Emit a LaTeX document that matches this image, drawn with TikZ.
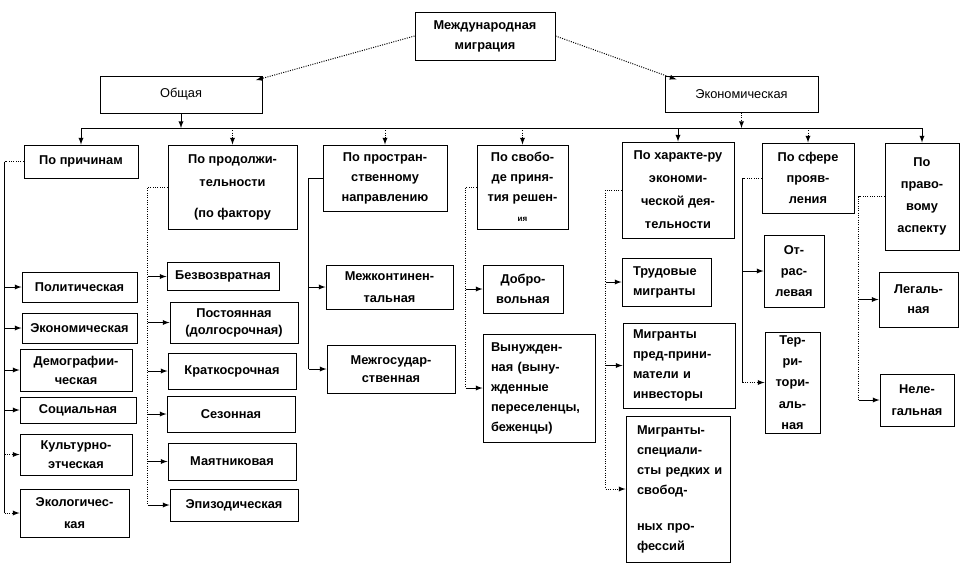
\documentclass[tikz,border=0pt]{standalone}
\usepackage{fontspec}
\setmainfont{Liberation Sans}
\usetikzlibrary{arrows}

\tikzset{every picture/.style={line width=0.75pt}}
\tikzset{
  box/.style={draw, fill=white, inner sep=1pt, align=center, font=\bfseries\fontsize{9.6}{15}\selectfont},
  lbox/.style={box, font=\mdseries\fontsize{9.6}{15}\selectfont},
  sz/.style 2 args={minimum width=#1*0.75pt, minimum height=#2*0.75pt},
  tw/.style={text width=#1*0.75pt, align=left},
  ls/.style={font=\bfseries\fontsize{9.6}{#1}\selectfont},
  arr/.style={-latex},
  darr/.style={-latex, densely dotted},
  dlink/.style={densely dotted},
}

\begin{document}
\begin{tikzpicture}[x=0.75pt,y=0.75pt,yscale=-1,xscale=1]
\useasboundingbox (0,0) rectangle (968,576);

%% ---------------- top levels ----------------
\node [box, sz={140}{48}] (top) at (485,36) {Международная\\миграция};
\node [lbox, sz={162}{37}] (obsh) at (181,94.5) {Общая};
\node [lbox, sz={153}{36}] (econ) at (741.5,94) {Экономическая};

%% ---------------- criteria ----------------
\node [box, sz={114}{33}] (prich) at (81,161.5) {По причинам};
\node [box, sz={129}{84}, ls=17.25] (prod) at (232.5,187) {По продолжи-\\тельности\\[6pt](по фактору};
\node [box, sz={124}{66}] (prost) at (385,178) {По простран-\\ственному\\направлению};
\node [box, sz={91}{84}] (svob) at (522.5,187) {По свобо-\\де приня-\\тия решен-\\{\fontsize{6}{6}\selectfont ия}};
\node [box, sz={112}{96}, ls=17.25] (harakt) at (678,190) {По характе-ру\\экономи-\\ческой дея-\\тельности};
\node [box, sz={92}{70}, ls=15.5] (sfera) at (808,178) {По сфере\\прояв-\\ления};
\node [box, sz={74}{107}, ls=16.5] (pravo) at (922,196.5) {По\\право-\\вому\\аспекту};

%% ---------------- by reasons ----------------
\node [box, sz={115}{30}] (polit) at (79.5,287) {Политическая};
\node [box, sz={115}{30}] (econ1) at (79.5,328) {Экономическая};
\node [box, sz={112}{42}, ls=14.25] (demo) at (76,370) {Демографии-\\ческая};
\node [box, sz={116}{26}] (soc) at (78,410) {Социальная};
\node [box, sz={112}{41}, ls=14.25] (kult) at (76,454.5) {Культурно-\\этческая};
\node [box, sz={109}{48}, ls=16] (ekol) at (74.5,513) {Экологичес-\\кая};

%% ---------------- by duration ----------------
\node [box, sz={112}{28}] (bezv) at (223,276.5) {Безвозвратная};
\node [box, sz={128}{41}, ls=12.75] (post) at (234,322.5) {Постоянная\\(долгосрочная)};
\node [box, sz={128}{36}] (krat) at (232,371) {Краткосрочная};
\node [box, sz={128}{36}] (sez) at (231,414) {Сезонная};
\node [box, sz={128}{37}] (mayat) at (232,461.5) {Маятниковая};
\node [box, sz={128}{32}] (epiz) at (234,505) {Эпизодическая};

%% ---------------- by direction ----------------
\node [box, sz={127}{44}, ls=16.5] (mezhk) at (389.5,287) {Межконтинен-\\тальная};
\node [box, sz={128}{48}, ls=13.5] (mezhg) at (391,369) {Межгосудар-\\ственная};

%% ---------------- by freedom of decision ----------------
\node [box, sz={80}{48}] (dobro) at (523,289) {Добро-\\вольная};
\node [box, sz={112}{108}, tw=96] (vyn) at (539,388) {Вынужден-\\ная (выну-\\жденные\\переселенцы,\\беженцы)};

%% ---------------- by economic activity ----------------
\node [box, sz={89}{48}, tw=67] (trud) at (666.5,282) {Трудовые\\мигранты};
\node [box, sz={112}{85}, tw=92] (predpr) at (679,365.5) {Мигранты\\пред-прини-\\матели~и\\инвесторы};
\node [box, sz={104}{146}, tw=82] (spec) at (678,489) {Мигранты-\\специали-\\сты~редких~и\\свобод-\\[12pt]ных~про-\\фессий};

%% ---------------- by sphere / legal aspect ----------------
\node [box, sz={60}{72}, ls=16] (otr) at (794,271) {От-\\рас-\\левая};
\node [box, sz={55}{101}, ls=16] (terr) at (792.5,382.5) {Тер-\\ри-\\тори-\\аль-\\ная};
\node [box, sz={79}{55}] (legal) at (918.5,299.5) {Легаль-\\ная};
\node [box, sz={74}{52}, ls=16.5] (nelegal) at (917,400) {Неле-\\гальная};

%% ---------------- connectors: top ----------------
\draw [darr] (top.west) -- ([xshift=-5pt,yshift=3.5pt]obsh.north east);
\draw [darr] (top.east) -- ([xshift=9pt,yshift=3pt]econ.north west);

\coordinate (bus) at (0,128);
\draw (prich.north |- bus) -- (pravo.north |- bus);
\draw [arr] (obsh.south) -- (obsh.south |- bus);
\draw [darr] (econ.south) -- (econ.south |- bus);
\foreach \n in {prich,harakt,pravo} \draw [arr] (\n.north |- bus) -- (\n.north);
\foreach \n in {prod,prost,svob,sfera} \draw [darr] (\n.north |- bus) -- (\n.north);

%% ---------------- connectors: columns ----------------
\draw [dlink] (prich.west) -- ++(-19,0) coordinate (c1);
\draw (c1) -- (c1 |- ekol.west);
\foreach \n in {polit,econ1,demo,soc} \draw [arr] (c1 |- \n.west) -- (\n.west);
\foreach \n in {kult,ekol} \draw [darr] (c1 |- \n.west) -- (\n.west);

\draw [dlink] (prod.west) -- ++(-20,0) coordinate (c2) -- (c2 |- epiz.west);
\foreach \n in {bezv,post,krat,sez,mayat,epiz} \draw [arr] (c2 |- \n.west) -- (\n.west);

\draw (prost.west) -- ++(-14,0) coordinate (c3) -- (c3 |- mezhg.west);
\foreach \n in {mezhk,mezhg} \draw [arr] (c3 |- \n.west) -- (\n.west);

\draw [dlink] (svob.west) -- ++(-11,0) coordinate (c4) -- (c4 |- vyn.west);
\foreach \n in {dobro,vyn} \draw [arr] (c4 |- \n.west) -- (\n.west);

\draw [dlink] (harakt.west) -- ++(-16,0) coordinate (c5) -- (c5 |- spec.west);
\foreach \n in {trud,predpr} \draw [arr] (c5 |- \n.west) -- (\n.west);
\draw [darr] (c5 |- spec.west) -- (spec.west);

\draw [dlink] (sfera.west) -- ++(-19,0) coordinate (c6);
\draw (c6) -- (c6 |- terr.west);
\draw [arr] (c6 |- otr.west) -- (otr.west);
\draw [darr] (c6 |- terr.west) -- (terr.west);

\draw [dlink] (pravo.west) -- ++(-26,0) coordinate (c7) -- (c7 |- nelegal.west);
\foreach \n in {legal,nelegal} \draw [arr] (c7 |- \n.west) -- (\n.west);

\end{tikzpicture}
\end{document}
